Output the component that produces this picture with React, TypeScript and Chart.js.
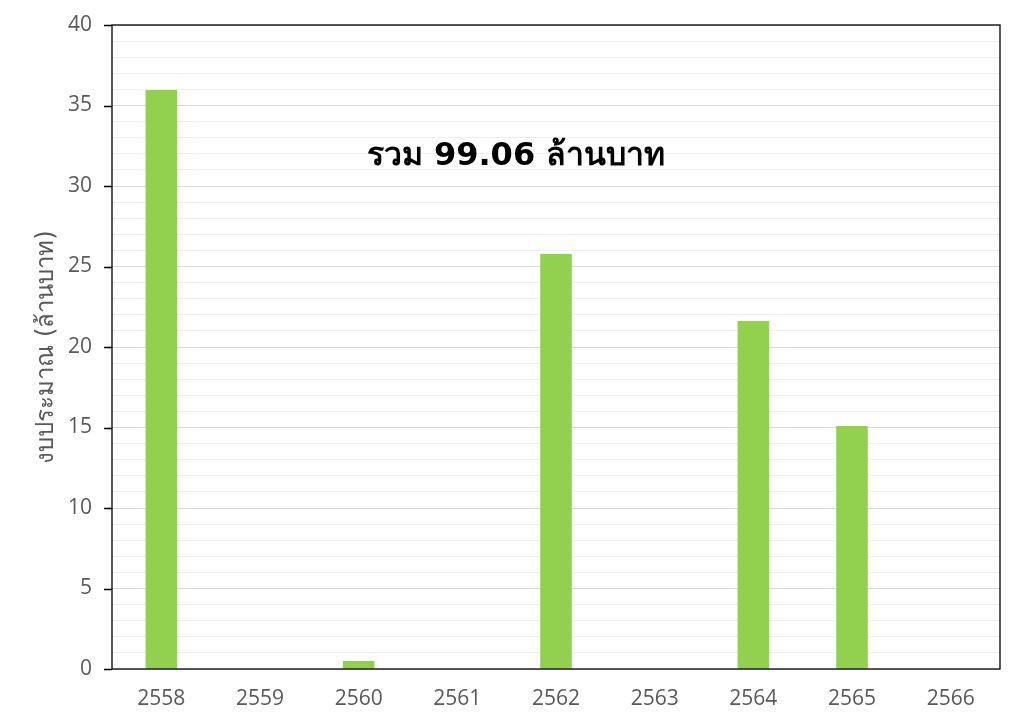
import React, { useEffect, useRef } from "react";
import { Chart, registerables } from "chart.js";

Chart.register(...registerables);

const categories = ["2558", "2559", "2560", "2561", "2562", "2563", "2564", "2565", "2566"];
const budget = [35.96, 0, 0.5, 0, 25.78, 0, 21.61, 15.09, 0];
const totalLabel = "รวม 99.06 ล้านบาท";
const yAxisTitle = "งบประมาณ (ล้านบาท)";

const FONT = "Tahoma, 'DejaVu Sans', 'Noto Sans', sans-serif";
const TICK_FONT = "'Open Sans', 'Noto Sans', sans-serif";

const frame = {
  id: "frame",
  afterDatasetsDraw(chart: any) {
    const { ctx, chartArea: a } = chart;
    const y = chart.scales.y;
    ctx.save();
    ctx.strokeStyle = "#000000";
    ctx.lineWidth = 1.3;
    ctx.strokeRect(a.left, a.top, a.right - a.left, a.bottom - a.top);
    ctx.beginPath();
    for (const t of y.ticks) {
      if (t.value % 5 !== 0) continue;
      const py = Math.round(y.getPixelForValue(t.value)) + 0.5;
      ctx.moveTo(a.left - 8, py);
      ctx.lineTo(a.left, py);
    }
    ctx.lineWidth = 1.5;
    ctx.stroke();
    ctx.restore();
  },
  afterDraw(chart: any) {
    const { ctx, chartArea: a } = chart;
    ctx.save();
    ctx.fillStyle = "#000000";
    ctx.font = `bold 32px ${FONT}`;
    ctx.textAlign = "center";
    ctx.textBaseline = "middle";
    ctx.fillText(totalLabel, a.left + (a.right - a.left) * 0.455, a.top + (a.bottom - a.top) * 0.204);
    ctx.restore();
  },
};

export default function App() {
  const ref = useRef<HTMLCanvasElement>(null);
  useEffect(() => {
    if (!ref.current) return;
    const chart = new Chart(ref.current, {
      type: "bar",
      data: {
        labels: categories,
        datasets: [
          {
            data: budget,
            backgroundColor: "#92D050",
            borderWidth: 0,
            categoryPercentage: 1,
            barPercentage: 0.32,
          },
        ],
      },
      options: {
        animation: false,
        responsive: false,
        layout: { padding: { left: 4, right: 24, top: 25, bottom: 0 } },
        plugins: { legend: { display: false }, tooltip: { enabled: false } },
        scales: {
          x: {
            afterFit(scale: any) {
              scale.height = 57;
              scale.paddingLeft = 0;
              scale.paddingRight = 0;
            },
            grid: { display: false, drawTicks: false },
            border: { display: false },
            ticks: { color: "#595959", font: { family: TICK_FONT, size: 21 }, padding: 17 },
          },
          y: {
            min: 0,
            max: 40,
            afterFit(scale: any) {
              scale.width = 108;
              scale.paddingTop = 0;
              scale.paddingBottom = 0;
            },
            border: { display: false },
            grid: {
              color: (c: any) => (c.tick && c.tick.value % 5 === 0 ? "#d9d9d9" : "#f0f0f0"),
              drawTicks: false,
              lineWidth: 1,
            },
            ticks: {
              stepSize: 1,
              autoSkip: false,
              color: "#595959",
              font: { family: TICK_FONT, size: 21 },
              padding: 20,
              callback: (v: any) => (Number(v) % 5 === 0 ? String(v) : ""),
            },
            title: {
              display: true,
              text: yAxisTitle,
              color: "#595959",
              font: { family: FONT, size: 24 },
              padding: { top: 28, bottom: 0 },
            },
          },
        },
      },
      plugins: [frame],
    });
    return () => chart.destroy();
  }, []);
  return (
    <div style={{ position: "fixed", left: 0, top: 0, width: 1024, height: 726, background: "#fff" }}>
      <canvas ref={ref} width={1024} height={726} style={{ display: "block" }} />
    </div>
  );
}
